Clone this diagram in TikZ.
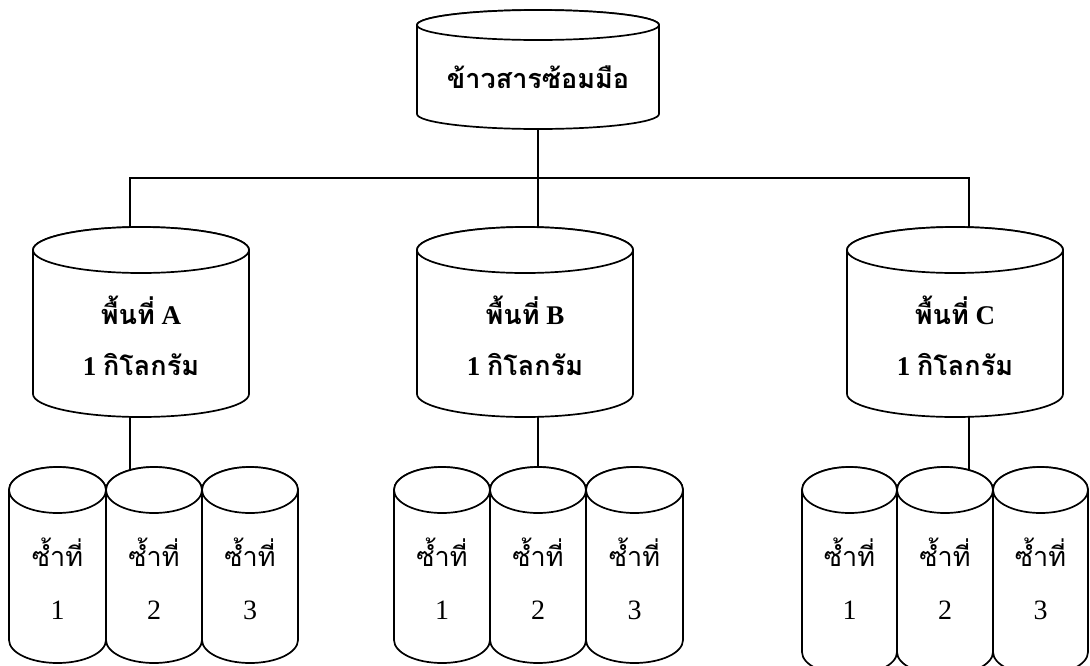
\documentclass[tikz,border=0pt]{standalone}
\usepackage{fontspec}
\setmainfont{Liberation Serif}
\newfontfamily\thai[Script=Thai]{Loma}
\usetikzlibrary{backgrounds}
\tikzset{
  cylline/.style={line width=1.7pt, fill=white},
  conn/.style={line width=1.7pt},
  toptext/.style={font=\fontsize{27}{32}\selectfont\bfseries\thai},
  midtext/.style={font=\fontsize{27}{32}\selectfont\bfseries},
  smalltext/.style={font=\fontsize{27}{32}\selectfont\thai},
  numtext/.style={font=\fontsize{28}{32}\selectfont},
}
% #1 left, #2 right, #3 top-ellipse centre y, #4 bottom centre y, #5 ry  (y axis points down)
\newcommand{\mycyl}[5]{%
  \pgfmathsetmacro{\cx}{(#1+#2)/2}%
  \pgfmathsetmacro{\rx}{(#2-#1)/2}%
  \filldraw[cylline] (#1,#3) -- (#1,#4) arc[start angle=180,end angle=0,x radius=\rx,y radius=#5] -- (#2,#3)
     arc[start angle=0,end angle=-180,x radius=\rx,y radius=#5] -- cycle;
  \draw[cylline] (\cx,#3) ellipse[x radius=\rx,y radius=#5];
}
\begin{document}
\begin{tikzpicture}[x=1pt,y=-1pt]
\useasboundingbox (0,0) rectangle (1090,665);
% top cylinder
\mycyl{417}{659}{25}{114}{15}
\node[toptext] (top) at (538,77) {ข้าวสารซ้อมมือ};
% middle cylinders
\mycyl{33}{249}{250}{394}{23}
\mycyl{417}{633}{250}{394}{23}
\mycyl{847}{1063}{250}{394}{23}
\node[midtext] (a1) at (141,310) {{\thai พื้นที่} A};
\node[midtext] (a2) at (141,364) {1 {\thai กิโลกรัม}};
\node[midtext] (b1) at (525,310) {{\thai พื้นที่} B};
\node[midtext] (b2) at (525,364) {1 {\thai กิโลกรัม}};
\node[midtext] (c1) at (955,310) {{\thai พื้นที่} C};
\node[midtext] (c2) at (955,364) {1 {\thai กิโลกรัม}};
% small cylinders
\foreach \l/\r/\b/\n/\k in {9/106/640/1/a, 106/202/640/2/a, 202/298/640/3/a,
                           394/490/640/1/b, 490/586/640/2/b, 586/683/640/3/b,
                           802/897/652/1/c, 897/993/652/2/c, 993/1088/652/3/c}{
  \mycyl{\l}{\r}{490}{\b}{23}
  \node[smalltext] (\k s\n) at ({(\l+\r)/2},552) {ซ้ำที่};
  \node[numtext] (\k n\n) at ({(\l+\r)/2},610) {\n};
}
% connector points
\coordinate (tb) at (538,129);
\coordinate (hub) at (538,178);
\coordinate (hl) at (130,178);
\coordinate (hr) at (969,178);
\coordinate (at) at (130,250);
\coordinate (bt) at (538,250);
\coordinate (ct) at (969,250);
\coordinate (ab) at (130,400);
\coordinate (bb) at (538,400);
\coordinate (cb) at (969,400);
\coordinate (as) at (130,490);
\coordinate (bs) at (538,490);
\coordinate (cs) at (969,490);
\begin{scope}[on background layer]
\draw[conn] (tb) -- (hub);
\draw[conn] (at) -- (hl) -- (hr) -- (ct);
\draw[conn] (hub) -- (bt);
\draw[conn] (ab) -- (as);
\draw[conn] (bb) -- (bs);
\draw[conn] (cb) -- (cs);
\end{scope}
\end{tikzpicture}
\end{document}
